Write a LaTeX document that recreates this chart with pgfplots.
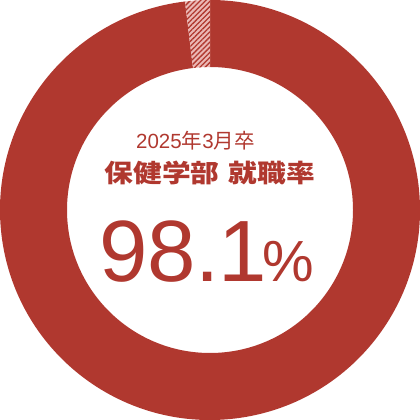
\documentclass[border=0pt]{standalone}
\usepackage{fontspec}
\setmainfont{Liberation Sans}
\newfontfamily\cjk{Noto Sans CJK JP}
\newfontfamily\cjkwide[FakeStretch=1.15]{Noto Sans CJK JP}
\usepackage{pgfplots}
\usepackage{pgfplotstable}
\pgfplotsset{compat=1.18}
\usetikzlibrary{patterns.meta}

\definecolor{donutred}{HTML}{B0382F}
\definecolor{donutpink}{HTML}{EBB8B5}

% share of graduates (%), starting at 12 o'clock
\pgfplotstableread{
label value
employed 98.1
other 1.9
}\ratetable

\begin{document}
\begin{tikzpicture}
  \begin{axis}[
      width=420pt, height=420pt,
      scale only axis,
      xmin=-210, xmax=210,
      ymin=-210, ymax=210,
      hide axis,
      clip=false,
      at={(0,0)}, anchor=south west
  ]
    \pgfplotstablegetelem{0}{value}\of\ratetable
    \pgfmathsetmacro\employed{\pgfplotsretval}
    \pgfmathsetmacro\startA{90+3.6*(100-\employed)}
    \begin{scope}[shift={(axis cs:0,0)}]
      % employed part (clockwise from the top)
      \fill[donutred] (\startA:210pt) arc[start angle=\startA, end angle=450, radius=210pt]
        -- (450:143pt) arc[start angle=450, end angle=\startA, radius=143pt] -- cycle;
      % remaining part, hatched
      \fill[donutpink] (90:210pt) arc[start angle=90, end angle=\startA, radius=210pt]
        -- (\startA:143pt) arc[start angle=\startA, end angle=90, radius=143pt] -- cycle;
      \fill[pattern={Lines[angle=45, distance=3.6pt, line width=1.3pt]}, pattern color=donutred]
        (90:210pt) arc[start angle=90, end angle=\startA, radius=210pt]
        -- (\startA:143pt) arc[start angle=\startA, end angle=90, radius=143pt] -- cycle;
    \end{scope}

    \node[text=donutred, anchor=base west, inner sep=0pt, font=\fontsize{20.5}{22}\selectfont]
      at (axis cs:-74,61) {2025{\cjk 年}3{\cjk 月卒}};
    \node[text=donutred, anchor=base west, inner sep=0pt,
          font=\cjkwide\bfseries\fontsize{25}{28}\selectfont]
      at (axis cs:-105.5,27) {保健学部\hspace{9pt}就職率};
    \node[text=donutred, anchor=base west, inner sep=0pt]
      at (axis cs:-111,-72) {\fontsize{87}{90}\selectfont 98.\kern-2pt1\kern-4pt\fontsize{58}{60}\selectfont\%};
  \end{axis}
  \pgfresetboundingbox
  \path (0,0) rectangle (420pt,420pt);
\end{tikzpicture}
\end{document}
